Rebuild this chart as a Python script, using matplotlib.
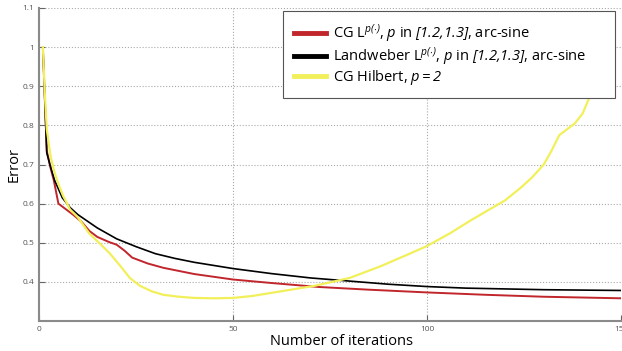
import numpy as np
import matplotlib
matplotlib.use('Agg')
import matplotlib.pyplot as plt

plt.rcParams['font.family'] = ['Open Sans', 'DejaVu Sans']
plt.rcParams['mathtext.fontset'] = 'custom'
plt.rcParams['mathtext.rm'] = 'Open Sans:italic'
plt.rcParams['mathtext.it'] = 'Open Sans:italic'

# values
x_cg = [1, 2, 3, 3.8, 5, 7, 9, 11, 13, 15, 18, 20, 22, 24, 28, 32, 40, 50, 60, 72, 85, 100, 115, 130, 150]
err_cg = [1.0, 0.735, 0.69, 0.66, 0.60, 0.585, 0.57, 0.553, 0.53, 0.515, 0.502, 0.495, 0.48, 0.462, 0.447,
          0.436, 0.42, 0.406, 0.397, 0.387, 0.380, 0.373, 0.367, 0.362, 0.358]

x_lw = [1, 2, 2.8, 4, 6, 8, 10, 15, 20, 25, 30, 35, 40, 50, 60, 70, 80, 90, 100, 110, 120, 130, 140, 150]
err_lw = [1.0, 0.73, 0.70, 0.66, 0.615, 0.59, 0.572, 0.538, 0.51, 0.49, 0.472, 0.46, 0.45, 0.434, 0.421,
          0.41, 0.402, 0.394, 0.388, 0.384, 0.382, 0.380, 0.379, 0.378]

x_h = [1, 1.5, 2, 3, 4, 5, 6.2, 8, 10, 13, 16, 18.3, 21, 23.4, 26, 29, 32, 36, 40, 45, 50, 55, 63, 71,
       80, 88, 95, 100, 106, 111, 116, 120, 124, 127, 130, 132, 134, 136, 138, 140, 141.5, 143]
err_h = [1.0, 0.88, 0.79, 0.72, 0.68, 0.65, 0.62, 0.585, 0.565, 0.523, 0.495, 0.472, 0.44, 0.41, 0.39,
         0.376, 0.367, 0.362, 0.359, 0.358, 0.359, 0.364, 0.377, 0.39, 0.41, 0.44, 0.47, 0.492, 0.525,
         0.556, 0.585, 0.608, 0.64, 0.667, 0.70, 0.735, 0.775, 0.79, 0.805, 0.83, 0.865, 0.91]

labels = [r'CG L$^{p(\cdot)}$, $p$ in $[1.2{,}1.3]$, arc-sine',
          r'Landweber L$^{p(\cdot)}$, $p$ in $[1.2{,}1.3]$, arc-sine',
          r'CG Hilbert, $p{=}2$']

fig = plt.figure(figsize=(6.22, 3.51), dpi=100)
ax = fig.add_axes([39/622, 1 - 321/351, 1 - 39/622 - 0.001, 313/351])

ax.plot(x_cg, err_cg, color='#c0262b', lw=1.4, label=labels[0])
ax.plot(x_lw, err_lw, color='black', lw=1.2, label=labels[1])
ax.plot(x_h, err_h, color='#f2f05a', lw=1.6, label=labels[2])

ax.set_xlim(0, 150)
ax.set_ylim(0.3, 1.1)
ax.set_xticks([0, 50, 100, 150])
ax.set_yticks([0.4, 0.5, 0.6, 0.7, 0.8, 0.9, 1.0, 1.1])
ax.set_yticklabels(['0.4', '0.5', '0.6', '0.7', '0.8', '0.9', '1', '1.1'])
ax.tick_params(direction='in', labelsize=6, labelcolor='#555555', color='#666666', length=4)
ax.grid(True, linestyle=':', color='#aaaaaa', lw=0.8)
for s in ['top', 'right']:
    ax.spines[s].set_visible(False)
for s in ['left', 'bottom']:
    ax.spines[s].set_color('#8a8a8a')
    ax.spines[s].set_linewidth(1.5)

ax.set_xlabel('Number of iterations', fontsize=10.5)
ax.xaxis.set_label_coords(0.52, -0.04)
ax.set_ylabel('Error', fontsize=10.5)
ax.yaxis.set_label_coords(-0.03, 0.5)

# legend box: x 283..615 px, top at 15 px
leg = ax.legend(loc='upper left', bbox_to_anchor=(283/622, 1 - 15/351, 332/622, 0.01),
                bbox_transform=fig.transFigure, mode='expand',
                fontsize=10.5, fancybox=False, framealpha=1, edgecolor='#555555', handlelength=2.2,
                handletextpad=0.5, labelspacing=0.0, borderpad=0.75, borderaxespad=0)
leg.get_frame().set_linewidth(0.8)
for h in leg.get_lines():
    h.set_linewidth(3.5)

fig.savefig('out.png', dpi=100)
